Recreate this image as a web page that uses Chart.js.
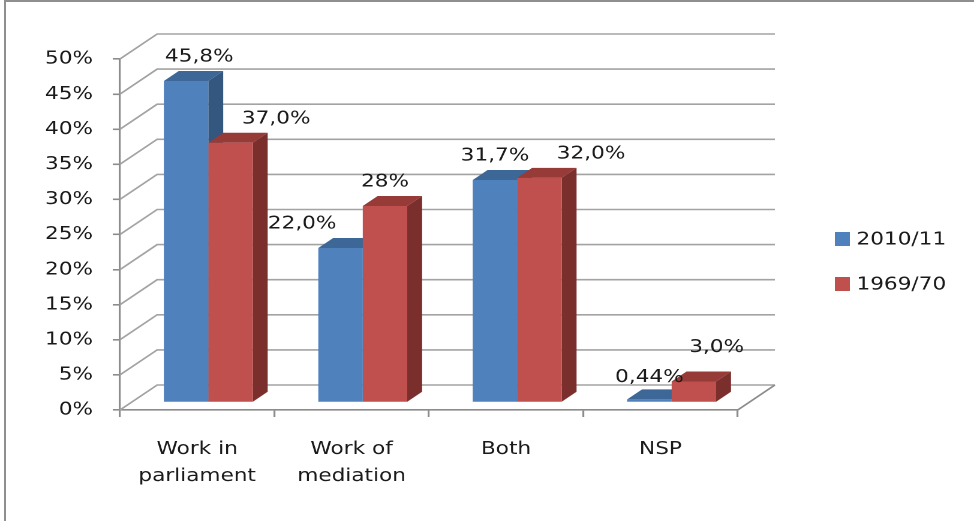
<!DOCTYPE html>
<html>
<head>
<meta charset="utf-8">
<script src="https://cdn.jsdelivr.net/npm/chart.js@4.4.0/dist/chart.umd.min.js"></script>
<style>
  html, body { margin: 0; padding: 0; background: #fff; }
  #frame { position: absolute; left: 4px; top: 0; width: 970px; height: 521px; border-top: 2px solid #8f8f8f; border-left: 2px solid #8f8f8f; box-sizing: border-box; }
  #wrap { position: absolute; left: 0; top: 0; width: 812px; height: 521px; transform: scaleX(1.19951); transform-origin: 0 0; }
</style>
</head>
<body>
<div id="frame"></div>
<div id="wrap"><canvas id="chart" width="812" height="521" style="width:812px;height:521px"></canvas></div>
<script>
// data
const categories = [['Work in', 'parliament'], ['Work of', 'mediation'], 'Both', 'NSP'];
const seriesNames = ['2010/11', '1969/70'];
const values2010 = [45.8, 22.0, 31.7, 0.44];
const values1969 = [37.0, 28.0, 32.0, 3.0];
const labels2010 = ['45,8%', '22,0%', '31,7%', '0,44%'];
const labels1969 = ['37,0%', '28%', '32,0%', '3,0%'];
const yMax = 50, yStep = 5;

// look
const gridColor = '#a3a3a3';
const axisColor = '#8c8c8c';
const textColor = '#1a1a1a';
const DEPTH = { x: 31, y: -25 };   // wall depth
const FRONT = 0.3, BACK = 0.7;      // bar depth inside the box

function poly(ctx, pts) {
  ctx.beginPath();
  ctx.moveTo(pts[0][0], pts[0][1]);
  for (let i = 1; i < pts.length; i++) ctx.lineTo(pts[i][0], pts[i][1]);
  ctx.closePath();
  ctx.fill();
}

const box3d = {
  id: 'box3d',
  beforeDatasetsDraw(chart, args, opts) {
    const ctx = chart.ctx, a = chart.chartArea, ys = chart.scales.y;
    ctx.save();
    ctx.strokeStyle = gridColor;
    ctx.lineWidth = 1.6;
    // side wall + back wall grid
    ys.ticks.forEach(t => {
      const y = ys.getPixelForValue(t.value);
      ctx.beginPath();
      ctx.moveTo(a.left, y);
      ctx.lineTo(a.left + DEPTH.x, y + DEPTH.y);
      ctx.lineTo(a.right + DEPTH.x, y + DEPTH.y);
      ctx.stroke();
    });
    // floor right edge
    ctx.strokeStyle = axisColor;
    ctx.beginPath();
    ctx.moveTo(a.right, a.bottom);
    ctx.lineTo(a.right + DEPTH.x, a.bottom + DEPTH.y);
    ctx.stroke();

    // sides and tops of the bars
    const fx = DEPTH.x * FRONT, fy = DEPTH.y * FRONT;
    const bx = DEPTH.x * (BACK - FRONT), by = DEPTH.y * (BACK - FRONT);
    chart.data.datasets.forEach((ds, i) => {
      chart.getDatasetMeta(i).data.forEach(el => {
        const l = el.x - el.width / 2 + fx, r = el.x + el.width / 2 + fx;
        const t = el.y + fy, b = el.base + fy;
        ctx.fillStyle = ds.sideColor;
        poly(ctx, [[r, t], [r + bx, t + by], [r + bx, b + by], [r, b]]);
        ctx.fillStyle = ds.topColor;
        poly(ctx, [[l, t], [r, t], [r + bx, t + by], [l + bx, t + by]]);
      });
    });
    ctx.restore();
    // front faces are drawn by chart.js, pushed back into the box
    ctx.save();
    ctx.translate(fx, fy);
  },
  afterDatasetsDraw(chart, args, opts) {
    const ctx = chart.ctx;
    ctx.restore();
    const fx = DEPTH.x * FRONT, fy = DEPTH.y * FRONT;
    ctx.save();
    ctx.font = '18px "DejaVu Sans"';
    ctx.fillStyle = textColor;
    ctx.textAlign = 'center';
    ctx.textBaseline = 'middle';
    chart.data.datasets.forEach((ds, i) => {
      chart.getDatasetMeta(i).data.forEach((el, j) => {
        const nx = opts.nudgeX[i][j], ny = opts.nudgeY[i][j];
        ctx.fillText(ds.valueLabels[j], el.x + fx + nx, el.y + fy - 24 + ny);
      });
    });
    ctx.restore();
  },
  afterDraw(chart) {
    // legend
    const ctx = chart.ctx;
    ctx.save();
    ctx.font = '18px "DejaVu Sans"';
    ctx.textBaseline = 'middle';
    ctx.textAlign = 'left';
    chart.data.datasets.forEach((ds, i) => {
      const y = 239 + i * 45;
      ctx.fillStyle = ds.backgroundColor;
      ctx.fillRect(696, y - 7, 12.5, 14);
      ctx.fillStyle = textColor;
      ctx.fillText(ds.label, 714, y + 1);
    });
    ctx.restore();
  }
};

Chart.defaults.font.family = '"DejaVu Sans", Verdana, sans-serif';
Chart.defaults.font.size = 18;
Chart.defaults.color = textColor;

new Chart(document.getElementById('chart'), {
  type: 'bar',
  data: {
    labels: categories,
    datasets: [
      {
        label: seriesNames[0],
        data: values2010,
        valueLabels: labels2010,
        backgroundColor: '#4f81bd',
        topColor: '#3d6796',
        sideColor: '#34577f',
        borderWidth: 0,
        categoryPercentage: 0.576,
        barPercentage: 1
      },
      {
        label: seriesNames[1],
        data: values1969,
        valueLabels: labels1969,
        backgroundColor: '#c0504d',
        topColor: '#963b38',
        sideColor: '#7b2f2d',
        borderWidth: 0,
        categoryPercentage: 0.576,
        barPercentage: 1
      }
    ]
  },
  options: {
    responsive: false,
    animation: false,
    devicePixelRatio: 2,
    layout: { padding: { top: 59, right: 197, bottom: 21, left: 0 } },
    plugins: {
      legend: { display: false },
      tooltip: { enabled: false },
      box3d: {
        nudgeX: [[11, -32, 0, 0], [38, 0, 43, 19]],
        nudgeY: [[0, 0, 0, 2], [0, 0, 0, -10]]
      }
    },
    scales: {
      x: {
        offset: true,
        grid: { drawOnChartArea: false, offset: true, tickLength: 7, color: axisColor, lineWidth: 1.6 },
        border: { color: axisColor, width: 1.6 },
        ticks: { maxRotation: 0, autoSkip: false, padding: 19, font: { size: 18, lineHeight: 1.5 } },
        afterFit(s) { s.height = 90; }
      },
      y: {
        min: 0,
        max: yMax,
        grid: { drawOnChartArea: false, tickLength: 6, color: axisColor, lineWidth: 1.6 },
        border: { color: axisColor, width: 1.6 },
        ticks: { stepSize: yStep, padding: 16.5, callback: v => v + '%' },
        afterFit(s) { s.width = 100; }
      }
    }
  },
  plugins: [box3d]
});
</script>
</body>
</html>
